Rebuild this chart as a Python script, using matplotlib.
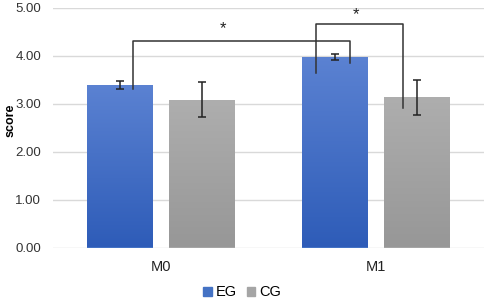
import numpy as np
import matplotlib
matplotlib.use("Agg")
import matplotlib.pyplot as plt
from matplotlib.colors import LinearSegmentedColormap
from matplotlib.patches import Patch

# data
categories = ["M0", "M1"]
groups = ["EG", "CG"]
eg_mean = [3.39, 3.97]
eg_err = [0.08, 0.07]
cg_mean = [3.08, 3.13]
cg_err = [0.37, 0.36]

# significance brackets: (x_left, x_right, y_top, y_left_end, y_right_end, star_x, star_y)
brackets = [
    (-0.13, 0.878, 4.31, 3.30, 3.84, 0.29, 4.56),
    (0.72, 1.123, 4.65, 3.64, 2.91, 0.906, 4.85),
]

plt.rcParams['font.family'] = ['Liberation Sans', 'DejaVu Sans']

fig = plt.figure(figsize=(4.84, 3.0), dpi=100)
ax = fig.add_axes([0.1095, 0.175, 0.8905, 0.8])

x = np.arange(len(categories))
width = 0.306
offset = 0.19

bars_eg = ax.bar(x - offset, eg_mean, width, color="#4472c4", zorder=2)
bars_cg = ax.bar(x + offset, cg_mean, width, color="#a5a5a5", zorder=2)

# vertical gradient fill clipped to bars
grad = np.linspace(0, 1, 256).reshape(-1, 1)
cmap_eg = LinearSegmentedColormap.from_list("eg", ["#2e5cb8", "#5b82d2"])
cmap_cg = LinearSegmentedColormap.from_list("cg", ["#979797", "#aeaeae"])
for bars, cmap in ((bars_eg, cmap_eg), (bars_cg, cmap_cg)):
    for b in bars:
        x0, w, h = b.get_x(), b.get_width(), b.get_height()
        im = ax.imshow(grad, cmap=cmap, origin="lower", aspect="auto",
                       extent=[x0, x0 + w, 0, h], zorder=2.1)
        im.set_clip_path(b)

ax.errorbar(x - offset, eg_mean, yerr=eg_err, fmt="none", ecolor="#222222",
            elinewidth=1.1, capsize=2.6, capthick=1.1, zorder=3)
ax.errorbar(x + offset, cg_mean, yerr=cg_err, fmt="none", ecolor="#222222",
            elinewidth=1.1, capsize=2.6, capthick=1.1, zorder=3)

for xl, xr, yt, yl, yr, sx, sy in brackets:
    ax.plot([xl, xl, xr, xr], [yl, yt, yt, yr], color="#333333", lw=1.1, zorder=4)
    ax.text(sx, sy, "*", ha="center", va="center", fontsize=12, color="#222222")

ax.set_xlim(-0.5, 1.5)
ax.set_ylim(0, 5)
ax.set_yticks(np.arange(0, 5.01, 1))
ax.set_yticklabels([f"{v:.2f}" for v in np.arange(0, 5.01, 1)], fontsize=9.5, color="#333333")
ax.set_xticks(x)
ax.set_xticklabels(categories, fontsize=10.5, color="#222222")
ax.tick_params(length=0, pad=8.5)
ax.tick_params(axis="x", pad=9)
ax.yaxis.grid(True, color="#d9d9d9", lw=1, zorder=0)
ax.set_axisbelow(True)
for s in ax.spines.values():
    s.set_visible(False)
ax.set_ylabel("score", fontsize=9, fontweight="bold")
ax.yaxis.set_label_coords(-0.084, 0.53)

handles = [Patch(color="#4472c4"), Patch(color="#a5a5a5")]
fig.legend(handles, groups, loc="center", bbox_to_anchor=(0.5, 0.025), ncol=2,
           frameon=False, fontsize=10.5, handlelength=0.6, handleheight=0.6,
           handletextpad=0.25, columnspacing=0.7)

fig.savefig("out.png", dpi=100)
